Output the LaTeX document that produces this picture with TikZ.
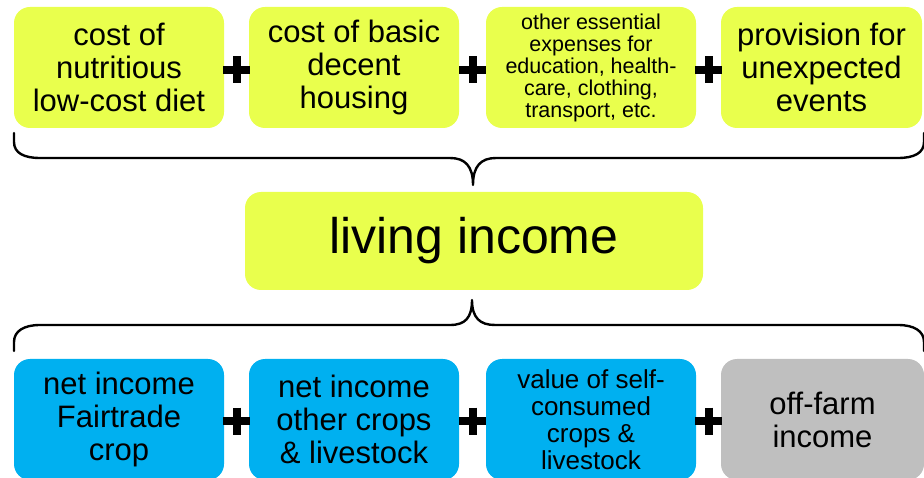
\documentclass[tikz,border=0pt]{standalone}
\usepackage{fontspec}
\setmainfont{Liberation Sans}
\definecolor{boxyellow}{RGB}{233,255,77}
\definecolor{boxblue}{RGB}{0,176,240}
\definecolor{boxgray}{RGB}{191,191,191}
\tikzset{
  card/.style={rectangle, rounded corners=16pt, inner sep=0pt, align=center, text=black},
  ybox/.style={card, fill=boxyellow},
  bbox/.style={card, fill=boxblue},
  gbox/.style={card, fill=boxgray},
  bigtxt/.style={font=\fontsize{31}{33}\selectfont},
  plussign/.style={minimum size=27pt, inner sep=0pt, path picture={
      \draw[line width=8pt] (path picture bounding box.west) -- (path picture bounding box.east);
      \draw[line width=8pt] (path picture bounding box.north) -- (path picture bounding box.south);}},
  bracepath/.style={draw=black, line width=2.4pt, line cap=round, line join=round}
}
\begin{document}
\begin{tikzpicture}[x=1pt,y=-1pt]
\useasboundingbox (0,0) rectangle (924,478);
\clip (0,0) rectangle (924,478);
% top row
\node[ybox,bigtxt,minimum width=210pt,minimum height=121pt] (t1) at (119,67.5) {cost of\\nutritious\\low-cost diet};
\node[ybox,bigtxt,minimum width=210pt,minimum height=121pt] (t2) at (354,67.5) {cost of basic\\decent\\housing};
\node[ybox,font=\fontsize{21.5}{22}\selectfont,minimum width=210pt,minimum height=121pt] (t3) at (591,67.5) {other essential\\expenses for\\education, health-\\care, clothing,\\transport, etc.};
\node[ybox,bigtxt,minimum width=201pt,minimum height=121pt] (t4) at (821.5,67.5) {provision for\\unexpected\\events};
\node[plussign] (tp1) at (236.5,70) {};
\node[plussign] (tp2) at (472.5,70) {};
\node[plussign] (tp3) at (708.5,70) {};
% top brace
\path[bracepath] (14,133) -- (14,142) .. controls (14,153) and (24,158) .. (40,158) -- (450,158)
  .. controls (465,158) and (473,166) .. (473,185)
  .. controls (473,166) and (481,158) .. (496,158) -- (898,158)
  .. controls (914,158) and (924,153) .. (924,142) -- (924,133);
% middle
\node[ybox,font=\fontsize{50}{52}\selectfont,minimum width=458pt,minimum height=98pt] (li) at (474,241) {living income};
% bottom brace
\path[bracepath] (14,351) -- (14,342) .. controls (14,331) and (24,325) .. (40,325) -- (450,325)
  .. controls (465,325) and (472,318) .. (472,300)
  .. controls (472,318) and (480,325) .. (495,325) -- (898,325)
  .. controls (914,325) and (924,331) .. (924,342) -- (924,351);
% bottom row
\node[bbox,bigtxt,minimum width=210pt,minimum height=121pt] (b1) at (119,419.5) {net income\\Fairtrade\\crop};
\node[bbox,bigtxt,minimum width=210pt,minimum height=121pt] (b2) at (354,419.5) {net income\\other crops\\\& livestock};
\node[bbox,font=\fontsize{26}{27}\selectfont,minimum width=210pt,minimum height=121pt] (b3) at (591,419.5) {value of self-\\consumed\\crops \&\\livestock};
\node[gbox,bigtxt,minimum width=203pt,minimum height=121pt] (b4) at (822.5,419.5) {off-farm\\income};
\node[plussign] (bp1) at (236.5,421) {};
\node[plussign] (bp2) at (472.5,421) {};
\node[plussign] (bp3) at (708.5,421) {};
\end{tikzpicture}
\end{document}
